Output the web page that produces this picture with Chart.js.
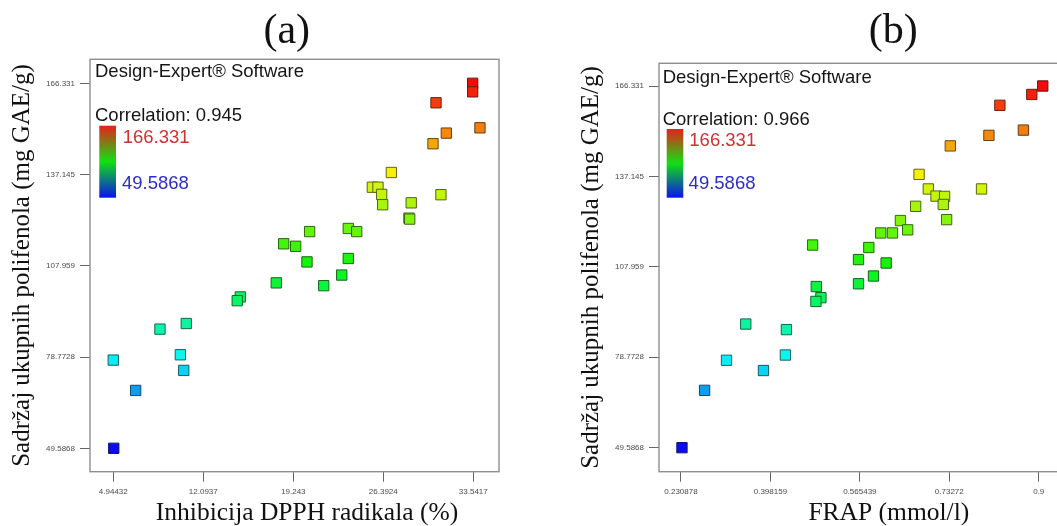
<!DOCTYPE html>
<html>
<head>
<meta charset="utf-8">
<script src="https://cdn.jsdelivr.net/npm/chart.js@4.4.1/dist/chart.umd.min.js"></script>
<style>
  html, body { margin: 0; padding: 0; background: #fff; overflow: hidden; width: 1057px; height: 526px; }
  #wrap { position: relative; width: 1057px; height: 526px; overflow: hidden; }
  canvas { position: absolute; top: 0; }
  #cA { left: 0; }
  #cB { left: 569px; }
</style>
</head>
<body>
<div id="wrap">
  <canvas id="cA" width="530" height="526"></canvas>
  <canvas id="cB" width="500" height="526"></canvas>
</div>
<script>
// Total phenolic content (mg GAE/g), one value per sample, shared by both panels
const polyphenols = [166.331, 163.6, 160.1, 152.1, 150.4, 147.0, 137.8, 133.1, 133.1, 130.8,
                     130.7, 128.1, 127.5, 123.2, 122.9, 119.9, 118.9, 118.9, 115.0, 114.2,
                     110.3, 109.2, 105.0, 102.5, 101.6, 98.0, 96.8, 89.5, 87.7, 79.5,
                     77.8, 74.5, 68.1, 49.5868];
// DPPH radical inhibition (%) for the same samples
const dpph = [33.49, 33.49, 30.58, 34.07, 31.40, 30.34, 27.03, 25.52, 25.97, 26.26,
              30.97, 28.61, 26.34, 28.43, 28.49, 23.61, 20.54, 24.28, 18.48, 19.43,
              23.61, 20.33, 23.09, 17.89, 21.66, 15.03, 14.79, 10.74, 8.65, 10.27,
              4.94, 10.54, 6.72, 4.98];
// FRAP (mmol/l) for the same samples
const frap = [0.9075, 0.8870, 0.8273, 0.8713, 0.8068, 0.7346, 0.6762, 0.6935, 0.7930, 0.7079,
              0.7239, 0.7215, 0.6698, 0.7277, 0.6413, 0.6549, 0.6045, 0.6264, 0.4771, 0.5822,
              0.5629, 0.6146, 0.5909, 0.5629, 0.4840, 0.4926, 0.4833, 0.3521, 0.4281, 0.4262,
              0.3161, 0.3852, 0.2751, 0.2328];

// Axis tick values and their printed labels
const yTicks = [49.5868, 78.7728, 107.959, 137.145, 166.331];
const yTickLabels = ['49.5868', '78.7728', '107.959', '137.145', '166.331'];
const dpphTicks = [4.94432, 12.0937, 19.243, 26.3924, 33.5417];
const dpphTickLabels = ['4.94432', '12.0937', '19.243', '26.3924', '33.5417'];
const frapTicks = [0.230878, 0.398159, 0.565439, 0.73272, 0.9];
const frapTickLabels = ['0.230878', '0.398159', '0.565439', '0.73272', '0.9'];

// Colour scale limits and correlation coefficients
const colorRange = [49.5868, 166.331];
const correlations = ['0.945', '0.966'];

const SERIF = '"Liberation Serif", "Times New Roman", serif';
const SANS = '"Liberation Sans", Arial, sans-serif';

function hueOf(v) {
  const t = Math.max(0, Math.min(1, (v - colorRange[0]) / (colorRange[1] - colorRange[0])));
  return 240 * (1 - t);
}

// Plot frame around the chart area
const framePlugin = {
  id: 'frame',
  beforeDatasetsDraw(chart) {
    const a = chart.chartArea, ctx = chart.ctx;
    ctx.save();
    ctx.strokeStyle = '#8e8e8e';
    ctx.lineWidth = 1.4;
    ctx.strokeRect(a.left, a.top, a.right - a.left, a.bottom - a.top);
    ctx.restore();
  }
};

function captionPlugin(p) {
  return {
    id: 'captions',
    afterDraw(chart) {
      const ctx = chart.ctx;
      ctx.save();
      ctx.textBaseline = 'alphabetic';
      // panel letter
      ctx.fillStyle = '#111';
      ctx.font = '42px ' + SERIF;
      ctx.textAlign = 'center';
      ctx.fillText(p.letter, p.letterX, 42.5);
      // x-axis title
      ctx.font = '25.5px ' + SERIF;
      ctx.fillText(p.xTitle, p.xTitleX, 520);
      // software note and correlation
      ctx.textAlign = 'left';
      ctx.font = '18.5px ' + SANS;
      ctx.fillStyle = '#151515';
      ctx.fillText('Design-Expert\u00AE Software', p.noteX, p.noteY);
      ctx.fillText('Correlation: ' + p.corr, p.noteX, p.corrY);
      // colour bar
      const g = ctx.createLinearGradient(0, p.barY, 0, p.barY + p.barH);
      g.addColorStop(0, '#e8201a');
      g.addColorStop(0.5, '#12e012');
      g.addColorStop(1, '#0a12ee');
      ctx.fillStyle = g;
      ctx.fillRect(p.barX, p.barY, p.barW, p.barH);
      ctx.fillStyle = '#d23030';
      ctx.fillText(colorRange[1].toString(), p.labX, p.maxY);
      ctx.fillStyle = '#2c2cc8';
      ctx.fillText(colorRange[0].toString(), p.labX - 0.7, p.minY);
      ctx.restore();
    }
  };
}

function makePanel(canvas, p) {
  return new Chart(canvas, {
    type: 'scatter',
    data: {
      datasets: [{
        data: p.xs.map((x, i) => ({ x: x, y: polyphenols[i] })),
        pointStyle: 'rect',
        pointRadius: 7.3,
        pointHoverRadius: 7.3,
        borderWidth: 1,
        backgroundColor: c => 'hsl(' + hueOf(c.raw ? c.raw.y : 100) + ',92%,50%)',
        borderColor: c => 'hsl(' + hueOf(c.raw ? c.raw.y : 100) + ',65%,24%)'
      }]
    },
    options: {
      responsive: false,
      animation: false,
      devicePixelRatio: 1,
      events: [],
      layout: { padding: { top: p.padTop, right: p.padRight, left: 0, bottom: 0 } },
      plugins: { legend: { display: false }, tooltip: { enabled: false }, title: { display: false } },
      scales: {
        x: {
          type: 'linear',
          min: p.xMin, max: p.xMax,
          afterBuildTicks: s => { s.ticks = p.xTicks.map(v => ({ value: v })); },
          afterFit: s => { s.height = 54.3; },
          ticks: {
            autoSkip: false, maxRotation: 0, padding: 5,
            color: '#4a4a4a', font: { family: SANS, size: 8 },
            callback: (v, i) => p.xLabels[i]
          },
          grid: { drawOnChartArea: false, drawTicks: true, tickLength: 10, tickColor: '#666', tickWidth: 1 },
          border: { display: false }
        },
        y: {
          type: 'linear',
          min: p.yMin, max: p.yMax,
          afterBuildTicks: s => { s.ticks = yTicks.map(v => ({ value: v })); },
          afterFit: s => { s.width = 90; },
          ticks: {
            autoSkip: false, padding: 5,
            color: '#4a4a4a', font: { family: SANS, size: 8 },
            callback: (v, i) => yTickLabels[i]
          },
          grid: { drawOnChartArea: false, drawTicks: true, tickLength: 10, tickColor: '#666', tickWidth: 1 },
          border: { display: false },
          title: {
            display: true,
            text: 'Sadržaj ukupnih polifenola (mg GAE/g)',
            color: '#111',
            font: { family: SERIF, size: 25 },
            padding: { top: 7, bottom: 0 }
          }
        }
      }
    },
    plugins: [framePlugin, captionPlugin(p)]
  });
}

// (a) DPPH panel
makePanel(document.getElementById('cA'), {
  xs: dpph, xTicks: dpphTicks, xLabels: dpphTickLabels,
  xMin: 3.0935, xMax: 35.583, yMin: 42.102, yMax: 174.007,
  padTop: 59.3, padRight: 31,
  letter: '(a)', letterX: 286.7,
  xTitle: 'Inhibicija DPPH radikala (%)', xTitleX: 307,
  corr: correlations[0],
  noteX: 95, noteY: 77, corrY: 121,
  barX: 99.3, barY: 125.7, barW: 16.7, barH: 72,
  labX: 122.7, maxY: 143.3, minY: 188.7
});

// (b) FRAP panel
makePanel(document.getElementById('cB'), {
  xs: frap, xTicks: frapTicks, xLabels: frapTickLabels,
  xMin: 0.18984, xMax: 0.94104, yMin: 41.84, yMax: 173.658,
  padTop: 63.3, padRight: 7.3,
  letter: '(b)', letterX: 324.3,
  xTitle: 'FRAP (mmol/l)', xTitleX: 319.8,
  corr: correlations[1],
  noteX: 93.7, noteY: 82.7, corrY: 125,
  barX: 97.7, barY: 129, barW: 16.6, barH: 68.7,
  labX: 120.3, maxY: 146, minY: 189.3
});
</script>
</body>
</html>
